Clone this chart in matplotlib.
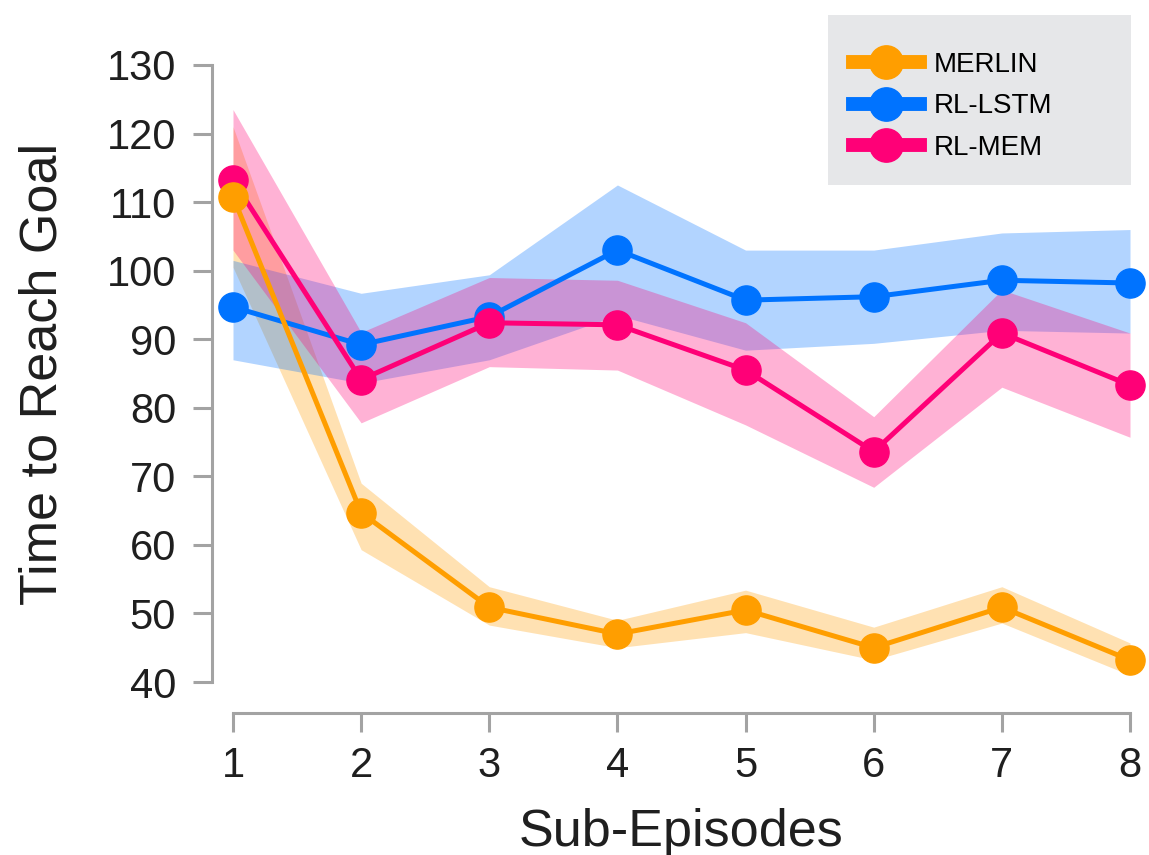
import matplotlib
matplotlib.use("Agg")
import matplotlib.pyplot as plt
from matplotlib.lines import Line2D
from matplotlib.patches import Rectangle

plt.rcParams['font.family'] = ['Liberation Sans', 'DejaVu Sans']

episodes = [1, 2, 3, 4, 5, 6, 7, 8]

merlin = [110.8, 64.7, 50.9, 47.0, 50.5, 45.0, 50.9, 43.2]
merlin_lo = [100.5, 59.3, 48.3, 45.0, 47.2, 43.2, 48.6, 41.0]
merlin_hi = [121.0, 69.0, 53.9, 49.0, 53.4, 48.0, 53.9, 45.7]

lstm = [94.7, 89.2, 93.3, 103.0, 95.7, 96.2, 98.6, 98.2]
lstm_lo = [87.0, 83.6, 87.0, 93.5, 88.4, 89.4, 91.3, 90.9]
lstm_hi = [101.5, 96.7, 99.4, 112.5, 103.0, 103.0, 105.5, 106.0]

mem = [113.2, 84.1, 92.4, 92.1, 85.5, 73.6, 90.9, 83.3]
mem_lo = [103.0, 77.8, 86.0, 85.5, 77.5, 68.4, 83.0, 75.7]
mem_hi = [123.5, 91.0, 99.0, 98.6, 92.4, 78.7, 97.2, 90.9]

names = ['MERLIN', 'RL-LSTM', 'RL-MEM']
colors = ['#FF9E00', '#0073FF', '#FF0077']

fig = plt.figure(figsize=(11.49, 8.55), dpi=100)
ax = fig.add_axes([233 / 1149, 1 - 682 / 855, (1130 - 233) / 1149, (682 - 65) / 855])

series = [
    (merlin, merlin_lo, merlin_hi, colors[0], 5),
    (lstm, lstm_lo, lstm_hi, colors[1], 3),
    (mem, mem_lo, mem_hi, colors[2], 4),
]
for vals, lo, hi, c, z in series:
    ax.fill_between(episodes, lo, hi, color=c, alpha=0.3, lw=0, zorder=1)
    ax.plot(episodes, vals, color=c, lw=3.6, marker='o', ms=21,
            clip_on=False, zorder=z)

ax.set_xlim(1, 8)
ax.set_ylim(40, 130)
ax.set_xticks(episodes)
ax.set_yticks(range(40, 131, 10))

grey = '#A3A3A3'
for side in ['top', 'right']:
    ax.spines[side].set_visible(False)
# offsets are in points (dpi 100)
ax.spines['left'].set_position(('outward', 15))
ax.spines['bottom'].set_position(('outward', 22))
for side in ['left', 'bottom']:
    ax.spines[side].set_color(grey)
    ax.spines[side].set_linewidth(2.2)
ax.tick_params(axis='both', colors=grey, width=2.2, length=14,
               labelsize=30, labelcolor='#1f1f1f')
ax.tick_params(axis='y', pad=12)
ax.tick_params(axis='x', pad=10)

ax.set_xlabel('Sub-Episodes', fontsize=37.5, color='#1f1f1f', labelpad=16)
ax.set_ylabel('Time to Reach Goal', fontsize=37.5, color='#1f1f1f', labelpad=28)

# grey legend box sticking above the axes
fig.patches.append(Rectangle((828 / 1149, 1 - 185 / 855), 303 / 1149, 170 / 855,
                             transform=fig.transFigure, facecolor='#E6E7E9',
                             edgecolor='none', zorder=0))
handles = [Line2D([], [], color=c, lw=10, marker='o', ms=24) for c in colors]
fig.legend(handles, names, loc='upper left', bbox_to_anchor=(853 / 1149, 1 - 52 / 855),
           frameon=False, fontsize=20, handlelength=2.4, handletextpad=0.5,
           labelspacing=0.55, borderpad=0, borderaxespad=0)

fig.savefig('out.png', dpi=100)
